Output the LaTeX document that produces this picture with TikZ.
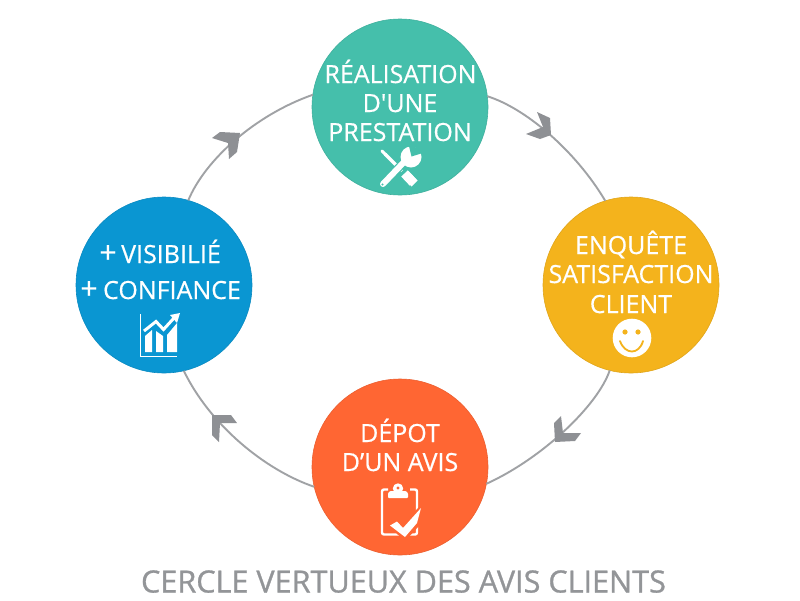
\documentclass[tikz,border=0pt]{standalone}
\usepackage{fontspec}
\setmainfont{Open Sans}[Ligatures=TeXOff]
\newfontfamily\lblfont{Open Sans}[Ligatures=TeXOff,FakeBold=0.5]
\newfontfamily\ttlfont{Open Sans}[Ligatures=TeXOff,FakeBold=0.9]
\definecolor{cteal}{HTML}{45BFAB}
\definecolor{cyellow}{HTML}{F4B31C}
\definecolor{cred}{HTML}{FF6633}
\definecolor{cblue}{HTML}{0A96D2}
\definecolor{cline}{HTML}{A0A2A5}
\definecolor{carrow}{HTML}{8E9094}
\definecolor{ctitle}{HTML}{939598}
\tikzset{
  disc/.style={circle,minimum size=176pt,inner sep=0pt,outer sep=0pt,fill=#1,draw=#1!92!black,line width=0.6pt},
  lbl/.style={text=white,anchor=base,font=\lblfont\fontsize{25}{25}\selectfont,inner sep=0pt},
  arc/.style={draw=cline,line width=1.9pt},
  chevron/.style={fill=carrow,draw=none},
  ico/.style={white,line cap=round,line join=round}
}
\begin{document}
\begin{tikzpicture}[x=1pt,y=-1pt]
\useasboundingbox (0,0) rectangle (800,600);
\fill[white] (0,0) rectangle (800,600);
\node[disc=cteal] (top) at (400,107) {};
\node[disc=cyellow] (right) at (631,285) {};
\node[disc=cred] (bottom) at (400,467) {};
\node[disc=cblue] (left) at (164,285) {};
% connectors
\draw[arc] (top.7) .. controls (525,108) and (575,150) .. (right.107);
\draw[arc] (right.256) .. controls (598,405) and (543,458) .. (bottom.349);
\draw[arc] (bottom.193) .. controls (265,470) and (210,425) .. (left.283);
\draw[arc] (left.74) .. controls (205,160) and (255,115) .. (top.172);
% chevrons
\fill[chevron] (537,112)--(550,118)--(551,135)--(540,139)--(526,134)--(543,127)--cycle;
\fill[chevron] (561,416)--(554,423)--(555,442)--(575,441)--(581,433)--(563,433)--cycle;
\fill[chevron] (212,415)--(231,415)--(237,423)--(220,423)--(219,442)--(212,435)--cycle;
\fill[chevron] (220,132)--(240,133)--(237,152)--(229,159)--(228,143)--(212,138)--cycle;
% texts
\node[lbl] (t1) at (400.5,83) {RÉALISATION};
\node[lbl] (t2) at (400,112) {D'UNE};
\node[lbl] (t3) at (400,141) {PRESTATION};
\node[lbl] (r1) at (631,254) {ENQUÊTE};
\node[lbl] (r2) at (631,283) {SATISFACTION};
\node[lbl] (r3) at (631,313) {CLIENT};
\node[lbl] (b1) at (400,442) {DÉPOT};
\node[lbl] (b2) at (400,471) {D’UN AVIS};
\node[lbl] (l1) at (171,263) {VISIBILIÉ};
\node[lbl] (l2) at (172,299) {CONFIANCE};
\node[lbl,font=\lblfont\fontsize{30}{30}\selectfont] (p1) at (108,263) {+};
\node[lbl,font=\lblfont\fontsize{30}{30}\selectfont] (p2) at (89,299) {+};
\node[anchor=base,inner sep=0pt,text=ctitle,font=\ttlfont\fontsize{30.6}{30.6}\selectfont] (title) at (403.5,592.5) {CERCLE VERTUEUX DES AVIS CLIENTS};
% tools icon
\draw[ico,line width=3pt] (382,151)--(386,155);
\draw[ico,line width=3.4pt,line cap=butt] (385,154)--(402,171);
\draw[ico,line width=9pt,line cap=butt] (404.5,173.5)--(413,182.5);
\fill[white] (408.5,171) -- (417.5,180.5) -- (411.5,186.5) -- (402.5,177) -- cycle;
\draw[cteal,line width=8.5pt,line cap=butt] (386,181)--(405,161);
\draw[ico,line width=6pt] (383,184)--(405,161);
\fill[white] (411,157) circle (10.5pt);
\fill[cteal] (411.5,156.5) -- (408.5,144) -- (426,152) -- cycle;
\fill[cteal] (382.5,184.5) circle (1.2pt);
% smiley
\fill[white] (632,338) circle (19.3pt);
\fill[cyellow] (625,332) circle (2.6pt) (638,332) circle (2.6pt);
\draw[cyellow,line width=1.8pt,line cap=round] (620,341) .. controls (625,355) and (639,355) .. (643,341);
% chart icon
\draw[ico,line width=1.4pt,line cap=butt,line join=miter] (140.5,314)--(140.5,356.5)--(177,356.5);
\fill[white] (145,352)--(145,336)--(152,330)--(152,352)--cycle;
\fill[white] (156,352)--(156,331)--(163,336)--(163,352)--cycle;
\fill[white] (167,352)--(167,335)--(177,323)--(177,352)--cycle;
\draw[ico,line width=3pt,line cap=butt,line join=miter] (144,331)--(156,321.5)--(163.5,329.5)--(174,318);
\fill[white] (180,313)--(170,315)--(177,323)--cycle;
% clipboard
\draw[white,line width=2.4pt,rounded corners=2pt] (388,489.5)--(382,489.5)--(382,534.5)--(417,534.5)--(417,489.5)--(410,489.5);
\fill[white,rounded corners=1pt] (388,493)--(390,491)--(406,491)--(408,493)--(408,498)--(388,498)--cycle;
\fill[white] (398,488.5) circle (5.2pt);
\fill[cred] (398,488) circle (1.7pt);
\fill[cred] (387,525)--(397,518)--(403,523)--(424,502)--(420,525)--(405,541)--cycle;
\fill[white] (390,525.5)--(397,521.5)--(403,528)--(421,508)--(417,523)--(405,537)--cycle;
\end{tikzpicture}
\end{document}
